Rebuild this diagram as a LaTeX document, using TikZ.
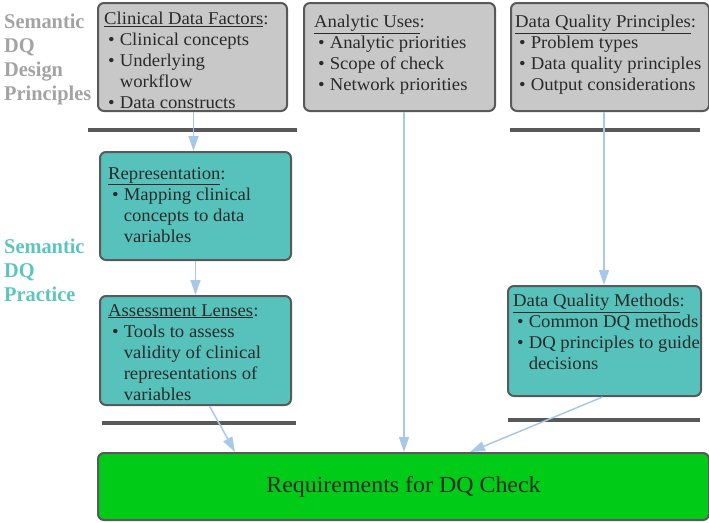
\documentclass[tikz,border=0pt]{standalone}
\usepackage{fontspec}
\setmainfont{Liberation Serif}[FakeStretch=1.04]
\newfontfamily\labelfont{Liberation Serif}[FakeStretch=0.97]
\usetikzlibrary{arrows.meta}
\definecolor{boxgray}{HTML}{C8C8C8}
\definecolor{edgegray}{HTML}{595959}
\definecolor{tealfill}{HTML}{56C2BB}
\definecolor{greenfill}{HTML}{00CC18}
\definecolor{arrowblue}{HTML}{A7C9E7}
\definecolor{labelgray}{HTML}{A3A3A3}
\definecolor{labelteal}{HTML}{5CC5BF}
\definecolor{txt}{HTML}{2A2A2A}
\newcommand{\dqbul}{\hspace*{4pt}\textbullet\hspace{5pt}}
\newcommand{\dqcont}{\hspace*{4pt}\hphantom{\textbullet}\hspace{5pt}}
\begin{document}
\begin{tikzpicture}[x=1pt,y=-1pt,
  box/.style={draw=edgegray, line width=2pt, rounded corners=6pt, inner sep=0pt, anchor=north west},
  graybox/.style={box, fill=boxgray},
  tealbox/.style={box, fill=tealfill},
  boxtext/.style={anchor=north west, inner sep=0pt, align=left, text=txt, font=\fontsize{18}{21}\selectfont},
  sidelabel/.style={anchor=north west, inner sep=0pt, align=left, font=\labelfont\bfseries\fontsize{21}{24}\selectfont},
  bar/.style={draw=edgegray, line width=4pt},
  flow/.style={draw=arrowblue, line width=1.5pt, -{Triangle[length=15pt,width=10pt]}}]
\useasboundingbox (0,0) rectangle (709,522);

% side labels
\node[sidelabel, text=labelgray] (lab1) at (4,14) {Semantic\\DQ\\Design\\Principles};
\node[sidelabel, text=labelteal] (lab2) at (4,239) {Semantic\\DQ\\Practice};

% top boxes
\node[graybox, minimum width=189pt, minimum height=108pt] (clin) at (97,2) {};
\node[boxtext] (clint) at (104,12) {\underline{Clinical Data Factors}:\\
\dqbul Clinical concepts\\ \dqbul Underlying\\ \dqcont workflow\\ \dqbul Data constructs};

\node[graybox, minimum width=191pt, minimum height=108pt] (ana) at (303,2) {};
\node[boxtext] (anat) at (314,15) {\underline{Analytic Uses}:\\
\dqbul Analytic priorities\\ \dqbul Scope of check\\ \dqbul Network priorities};

\node[graybox, minimum width=198pt, minimum height=108pt] (dqp) at (510,2) {};
\node[boxtext] (dqpt) at (515,15) {\underline{Data Quality Principles}:\\
\dqbul Problem types\\ \dqbul Data quality principles\\ \dqbul Output considerations};

% bars
\draw[bar] (88,130) -- (297,130);
\draw[bar] (510,130) -- (700,130);
\draw[bar] (102,423) -- (296,423);
\draw[bar] (508,420) -- (700,420);

% teal boxes
\node[tealbox, minimum width=191pt, minimum height=108pt] (rep) at (99,151) {};
\node[boxtext] (rept) at (108,167) {\underline{Representation}:\\
\dqbul Mapping clinical\\ \dqcont concepts to data\\ \dqcont variables};

\node[tealbox, minimum width=191pt, minimum height=109pt] (ass) at (99,295) {};
\node[boxtext] (asst) at (108,304) {\underline{Assessment Lenses}:\\
\dqbul Tools to assess\\ \dqcont validity of clinical\\ \dqcont representations of\\ \dqcont variables};

\node[tealbox, minimum width=193pt, minimum height=110pt] (dqm) at (507,285) {};
\node[boxtext] (dqmt) at (513,294) {\underline{Data Quality Methods}:\\
\dqbul Common DQ methods\\ \dqbul DQ principles to guide\\ \dqcont decisions};

% green box
\node[box, fill=greenfill, minimum width=611pt, minimum height=67pt] (req) at (97,452) {};
\node[text=txt, font=\fontsize{23}{27}\selectfont, inner sep=0pt] (reqt) at (req.center) {Requirements for DQ Check};

% arrows
\coordinate (gL) at (235,452);
\coordinate (gR) at (470,452);
\draw[flow] ([xshift=1pt]clin.south) -- ([xshift=1pt]clin.south |- rep.north);
\draw[flow] (rep.south) -- (ass.north);
\draw[flow] ([xshift=14pt]ass.south) -- (gL);
\draw[flow] ([xshift=4.5pt]ana.south) -- ([xshift=4.5pt]ana.south |- req.north);
\draw[flow] ([xshift=-6pt]dqp.south) -- ([xshift=-6pt]dqp.south |- dqm.north);
\draw[flow] ([xshift=-2pt]dqm.south) -- (gR);
\end{tikzpicture}
\end{document}
